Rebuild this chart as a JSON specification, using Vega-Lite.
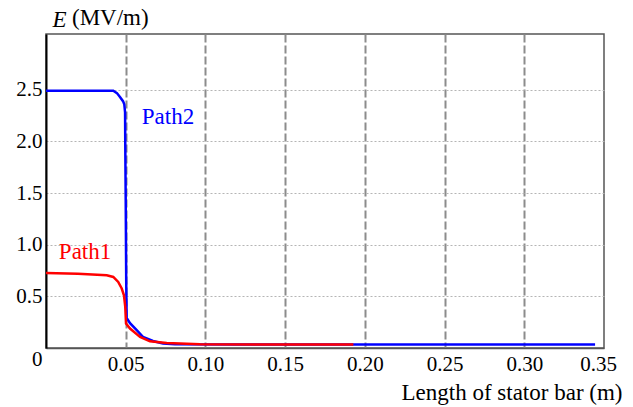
{
  "$schema": "https://vega.github.io/schema/vega-lite/v6.json",
  "width": 558,
  "height": 314,
  "autosize": {"type": "none"},
  "padding": {"left": 46, "top": 34, "right": 29, "bottom": 59},
  "background": "white",
  "title": {
    "text": "(MV/m)",
    "anchor": "start",
    "frame": "group",
    "dx": 26,
    "dy": 33,
    "offset": 0,
    "font": "Liberation Serif, Times New Roman, serif",
    "fontSize": 23,
    "fontWeight": "normal",
    "color": "black",
    "baseline": "middle"
  },
  "config": {
    "view": {"stroke": "#555", "strokeWidth": 1.5},
    "axis": {
      "labelFont": "Liberation Serif, Times New Roman, serif",
      "titleFont": "Liberation Serif, Times New Roman, serif",
      "labelColor": "black",
      "titleColor": "black",
      "titleFontWeight": "normal",
      "ticks": false
    }
  },
  "datasets": {
    "curves": [
      {"series": "Path2", "x": 0, "y": 2.49},
      {"series": "Path2", "x": 0.02, "y": 2.49},
      {"series": "Path2", "x": 0.0422, "y": 2.49},
      {"series": "Path2", "x": 0.0445, "y": 2.468},
      {"series": "Path2", "x": 0.0464, "y": 2.43},
      {"series": "Path2", "x": 0.0483, "y": 2.39},
      {"series": "Path2", "x": 0.0491, "y": 2.36},
      {"series": "Path2", "x": 0.0496, "y": 2.28},
      {"series": "Path2", "x": 0.0497, "y": 2.01},
      {"series": "Path2", "x": 0.05, "y": 1.43},
      {"series": "Path2", "x": 0.0503, "y": 0.66},
      {"series": "Path2", "x": 0.0506, "y": 0.29},
      {"series": "Path2", "x": 0.0527, "y": 0.24},
      {"series": "Path2", "x": 0.0569, "y": 0.172},
      {"series": "Path2", "x": 0.0608, "y": 0.107},
      {"series": "Path2", "x": 0.0671, "y": 0.068},
      {"series": "Path2", "x": 0.0734, "y": 0.043},
      {"series": "Path2", "x": 0.0809, "y": 0.036},
      {"series": "Path2", "x": 0.12, "y": 0.034},
      {"series": "Path2", "x": 0.2, "y": 0.033},
      {"series": "Path2", "x": 0.3444, "y": 0.033},
      {"series": "Path1", "x": 0, "y": 0.727},
      {"series": "Path1", "x": 0.02, "y": 0.718},
      {"series": "Path1", "x": 0.0381, "y": 0.705},
      {"series": "Path1", "x": 0.0422, "y": 0.688},
      {"series": "Path1", "x": 0.0453, "y": 0.64},
      {"series": "Path1", "x": 0.0475, "y": 0.576},
      {"series": "Path1", "x": 0.0489, "y": 0.51},
      {"series": "Path1", "x": 0.0497, "y": 0.4},
      {"series": "Path1", "x": 0.0502, "y": 0.236},
      {"series": "Path1", "x": 0.0527, "y": 0.188},
      {"series": "Path1", "x": 0.059, "y": 0.107},
      {"series": "Path1", "x": 0.0652, "y": 0.065},
      {"series": "Path1", "x": 0.0757, "y": 0.048},
      {"series": "Path1", "x": 0.0966, "y": 0.036},
      {"series": "Path1", "x": 0.1928, "y": 0.033}
    ],
    "labels": [
      {"series": "Path2", "x": 0.0765, "y": 2.235, "label": "Path2"},
      {"series": "Path1", "x": 0.0245, "y": 0.93, "label": "Path1"}
    ]
  },
  "encoding": {
    "x": {
      "field": "x",
      "type": "quantitative",
      "scale": {"domain": [0, 0.35], "nice": false, "zero": false},
      "axis": {
        "values": [0.05, 0.1, 0.15, 0.2, 0.25, 0.3, 0.35],
        "format": ".2f",
        "labelFontSize": 21,
        "labelPadding": 5,
        "labelFlush": false,
        "labelOffset": {"condition": {"test": "datum.value > 0.34", "value": -6}, "value": 0},
        "grid": true,
        "gridDash": [8, 3],
        "gridColor": "#8c8c8c",
        "gridWidth": 2,
        "gridOpacity": {"condition": {"test": "datum.value > 0.34", "value": 0}, "value": 1},
        "domainColor": "#555",
        "domainWidth": 1.5,
        "title": "Length of stator bar (m)",
        "titleFontSize": 23,
        "titleX": 576,
        "titleY": 44,
        "titleAlign": "right",
        "titleAnchor": "end",
        "titleBaseline": "middle"
      }
    },
    "y": {
      "field": "y",
      "type": "quantitative",
      "scale": {"domain": [0, 3.04], "nice": false},
      "axis": {
        "values": [0, 0.5, 1, 1.5, 2, 2.5],
        "labelExpr": "datum.value == 0 ? '0' : format(datum.value, '.1f')",
        "labelFontSize": 21,
        "labelPadding": 4,
        "labelBaseline": {"condition": {"test": "datum.value == 0", "value": "top"}, "value": "middle"},
        "grid": true,
        "gridDash": [2, 2],
        "gridColor": "#b5b5b5",
        "gridWidth": 1,
        "gridOpacity": {"condition": {"test": "datum.value == 0", "value": 0}, "value": 1},
        "domainColor": "black",
        "domainWidth": 2,
        "title": "E",
        "titleFontStyle": "italic",
        "titleFontSize": 23,
        "titleAngle": 0,
        "titleX": 6,
        "titleY": -15,
        "titleAlign": "left",
        "titleBaseline": "middle"
      }
    },
    "color": {
      "field": "series",
      "type": "nominal",
      "scale": {"domain": ["Path1", "Path2"], "range": ["#ff0000", "#0000ff"]},
      "legend": null
    }
  },
  "layer": [
    {
      "data": {"name": "curves"},
      "transform": [{"filter": "datum.series == 'Path2'"}],
      "mark": {"type": "line", "strokeWidth": 2.5}
    },
    {
      "data": {"name": "curves"},
      "transform": [{"filter": "datum.series == 'Path1'"}],
      "mark": {"type": "line", "strokeWidth": 2.5}
    },
    {
      "data": {"name": "labels"},
      "mark": {"type": "text", "font": "Liberation Serif, Times New Roman, serif", "fontSize": 23, "align": "center", "baseline": "middle"},
      "encoding": {"text": {"field": "label"}}
    }
  ]
}
